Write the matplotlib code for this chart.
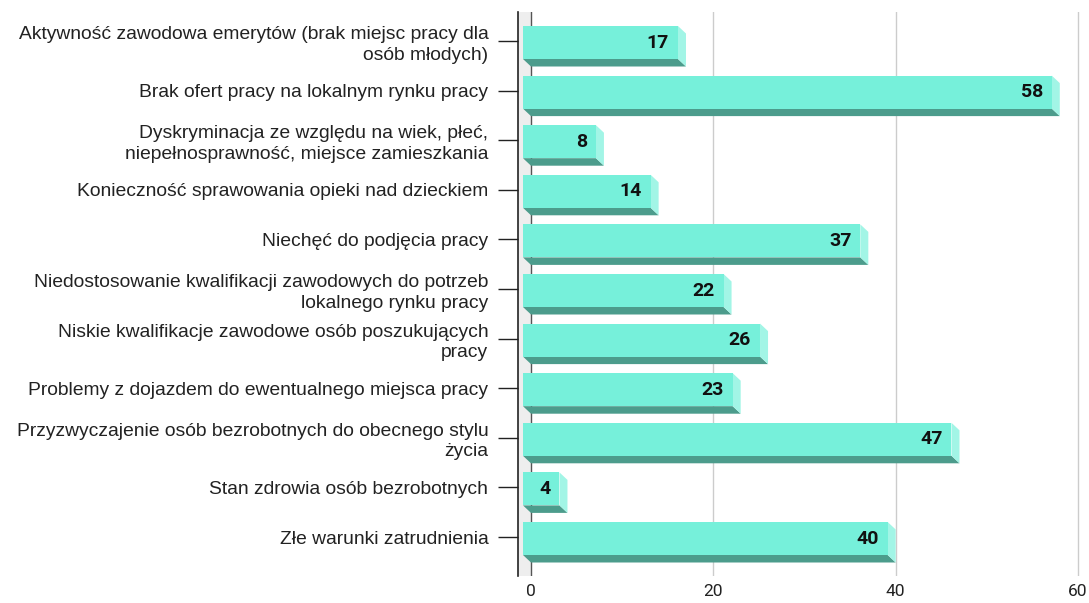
import matplotlib
matplotlib.use("Agg")
import matplotlib.pyplot as plt
from matplotlib.patches import Polygon

categories = [
    "Aktywność zawodowa emerytów (brak miejsc pracy dla\nosób młodych)",
    "Brak ofert pracy na lokalnym rynku pracy",
    "Dyskryminacja ze względu na wiek, płeć,\nniepełnosprawność, miejsce zamieszkania",
    "Konieczność sprawowania opieki nad dzieckiem",
    "Niechęć do podjęcia pracy",
    "Niedostosowanie kwalifikacji zawodowych do potrzeb\nlokalnego rynku pracy",
    "Niskie kwalifikacje zawodowe osób poszukujących\npracy",
    "Problemy z dojazdem do ewentualnego miejsca pracy",
    "Przyzwyczajenie osób bezrobotnych do obecnego stylu\nżycia",
    "Stan zdrowia osób bezrobotnych",
    "Złe warunki zatrudnienia",
]
values = [17, 58, 8, 14, 37, 22, 26, 23, 47, 4, 40]
x_ticks = [0, 20, 40, 60]

W, H = 1089, 603
fig = plt.figure(figsize=(W / 100, H / 100), dpi=100)
ax = fig.add_axes([518 / W, 1 - 576 / H, (1080 - 518) / W, (576 - 12) / H])

px_x = (1078 - 531) / 60.0      # pixels per value unit
px_y = 49.6                     # pixels per category
xmin = -(531 - 518) / px_x
xmax = 60 + 2 / px_x
ymin, ymax = (576 - 41) / px_y, (12 - 41) / px_y
ax.set_xlim(xmin, xmax)
ax.set_ylim(ymin, ymax)

dx = 8 / px_x
dy = 7.5 / px_y
top = 15 / px_y
bot = 18 / px_y

front_c = "#76f0da"
bottom_c = "#4c9c8c"
side_c = "#a2f5e6"

# light wall on the left
ax.add_patch(Polygon([(xmin, ymax), (0, ymax), (0, ymin), (xmin, ymin)],
                     closed=True, facecolor="#eeeeee", edgecolor="none", zorder=0))

for gx in x_ticks:
    ax.axvline(gx, color="#555555" if gx == 0 else "#cccccc", lw=1, zorder=1)

for i, v in enumerate(values):
    x0, x1 = -dx, v - dx
    y0, y1 = i - top, i + bot
    # bottom face
    ax.add_patch(Polygon([(x0, y1), (x1, y1), (x1 + dx, y1 + dy), (x0 + dx, y1 + dy)],
                         closed=True, facecolor=bottom_c, edgecolor="none", zorder=2))
    # right face
    ax.add_patch(Polygon([(x1, y0), (x1 + dx, y0 + dy), (x1 + dx, y1 + dy), (x1, y1)],
                         closed=True, facecolor=side_c, edgecolor="none", zorder=2))
    # front face
    ax.add_patch(Polygon([(x0, y0), (x1, y0), (x1, y1), (x0, y1)],
                         closed=True, facecolor=front_c, edgecolor="none", zorder=3))
    ax.text(x1 - 9 / px_x, i + 1.5 / px_y, str(v), ha="right", va="center",
            fontsize=14, fontweight="bold", family="Roboto", color="#111111", zorder=4)

ax.set_yticks(range(len(categories)))
ax.set_yticklabels(categories, family="Liberation Sans", fontsize=13.9, color="#222222",
                   ha="right", multialignment="right", linespacing=1.27)
ax.set_xticks(x_ticks)
ax.set_xticklabels([str(t) for t in x_ticks], family="Roboto", fontsize=12.5, color="#222222")

ax.tick_params(axis="y", length=20 * 0.72, width=1, color="#222222", pad=7)
ax.tick_params(axis="x", length=0, pad=6)

for s in ["top", "right", "bottom"]:
    ax.spines[s].set_visible(False)
ax.spines["left"].set_color("#222222")
ax.spines["left"].set_linewidth(1.2)

fig.savefig("out.png", dpi=100)
